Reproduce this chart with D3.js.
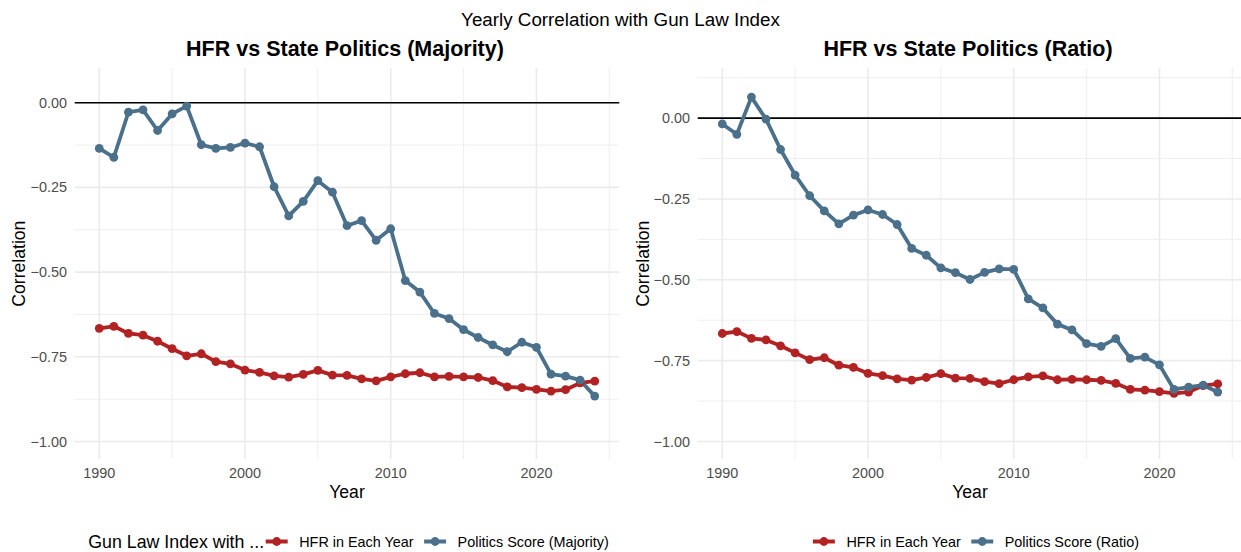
<!DOCTYPE html>
<html>
<head>
<meta charset="utf-8">
<script src="https://cdn.jsdelivr.net/npm/d3@7"></script>
<style>
  html, body { margin: 0; padding: 0; background: #ffffff; }
  svg { display: block; font-family: "Liberation Sans", Arial, Helvetica, sans-serif; }
</style>
</head>
<body>
<svg id="chart" width="1241" height="552"></svg>
<script>
// Years covered by both panels
const years = [1990, 1991, 1992, 1993, 1994, 1995, 1996, 1997, 1998, 1999,
               2000, 2001, 2002, 2003, 2004, 2005, 2006, 2007, 2008, 2009,
               2010, 2011, 2012, 2013, 2014, 2015, 2016, 2017, 2018, 2019,
               2020, 2021, 2022, 2023, 2024];

// Correlation of the gun law index with household firearm rate (HFR)
const hfrCorr = [-0.666, -0.660, -0.681, -0.686, -0.704, -0.726, -0.747, -0.741, -0.764, -0.771,
                 -0.789, -0.796, -0.806, -0.810, -0.802, -0.790, -0.804, -0.805, -0.815, -0.821,
                 -0.809, -0.800, -0.797, -0.809, -0.808, -0.809, -0.811, -0.820, -0.839, -0.841,
                 -0.846, -0.851, -0.847, -0.827, -0.822];

// Correlation with state politics score, majority version
const politicsMajority = [-0.135, -0.161, -0.028, -0.021, -0.082, -0.033, -0.010, -0.124, -0.135, -0.132,
                          -0.119, -0.130, -0.248, -0.334, -0.291, -0.230, -0.264, -0.363, -0.348, -0.406,
                          -0.372, -0.525, -0.559, -0.622, -0.637, -0.670, -0.693, -0.715, -0.735, -0.707,
                          -0.722, -0.801, -0.807, -0.819, -0.866];

// Correlation with state politics score, ratio version
const politicsRatio = [-0.018, -0.050, 0.065, -0.003, -0.097, -0.176, -0.240, -0.287, -0.327, -0.300,
                       -0.284, -0.298, -0.329, -0.403, -0.424, -0.463, -0.478, -0.499, -0.477, -0.466,
                       -0.468, -0.559, -0.587, -0.637, -0.655, -0.697, -0.706, -0.682, -0.743, -0.739,
                       -0.763, -0.839, -0.832, -0.826, -0.847];

// Axis ticks and labels
const xMajorTicks = [1990, 2000, 2010, 2020];
const xMinorTicks = [1995, 2005, 2015, 2025];
const yMajorTicks = [0, -0.25, -0.5, -0.75, -1];
const yMinorTicks = [0.125, -0.125, -0.375, -0.625, -0.875];

const chartTitle = "Yearly Correlation with Gun Law Index";
const panelTitles = ["HFR vs State Politics (Majority)", "HFR vs State Politics (Ratio)"];
const seriesNames = ["HFR in Each Year", ["Politics Score (Majority)", "Politics Score (Ratio)"]];
const legendTitle = "Gun Law Index with ...";
const yLimits = [[-1, 0.05], [-1, 0.1]];

const RED = "#B22222";
const BLUE = "#4A708B";
const GRID = "#EBEBEB";
const TICK_TEXT = "#4D4D4D";

const svg = d3.select("#chart");

// Overall title
svg.append("text")
  .attr("x", 620.5).attr("y", 19)
  .attr("text-anchor", "middle").attr("dominant-baseline", "central")
  .style("font-size", "18.8px").attr("fill", "#000")
  .text(chartTitle);

// ggplot-style 5% expansion on continuous scales
function expand(lim, mult = 0.05) {
  const r = lim[1] - lim[0];
  return [lim[0] - r * mult, lim[1] + r * mult];
}

const panels = [
  { left: 74.5, right: 619.5, ySeries: politicsMajority, yLim: yLimits[0],
    title: panelTitles[0], blueName: seriesNames[1][0], legendTitle: legendTitle, ylabX: 18.5 },
  { left: 697.5, right: 1242.5, ySeries: politicsRatio, yLim: yLimits[1],
    title: panelTitles[1], blueName: seriesNames[1][1], legendTitle: null, ylabX: 642.5 }
];
const panelTop = 68, panelBottom = 459.3;

panels.forEach((p, pi) => {
  const g = svg.append("g");
  const x = d3.scaleLinear().domain(expand([years[0], years[years.length - 1]])).range([p.left, p.right]);
  const y = d3.scaleLinear().domain(expand(p.yLim)).range([panelBottom, panelTop]);
  const [d0, d1] = y.domain();
  const inY = v => v >= d0 && v <= d1;
  const xd = x.domain();
  const inX = v => v >= xd[0] && v <= xd[1];

  // clip for plotting area
  const clipId = "clip" + pi;
  svg.append("defs").append("clipPath").attr("id", clipId)
    .append("rect").attr("x", p.left).attr("y", panelTop)
    .attr("width", p.right - p.left).attr("height", panelBottom - panelTop);

  const grid = g.append("g").attr("clip-path", `url(#${clipId})`);
  // minor grid
  grid.selectAll(".ymin").data(yMinorTicks.filter(inY)).join("line")
    .attr("x1", p.left).attr("x2", p.right)
    .attr("y1", d => y(d)).attr("y2", d => y(d))
    .attr("stroke", GRID).attr("stroke-width", 0.8);
  grid.selectAll(".xmin").data(xMinorTicks.filter(inX)).join("line")
    .attr("y1", panelTop).attr("y2", panelBottom)
    .attr("x1", d => x(d)).attr("x2", d => x(d))
    .attr("stroke", GRID).attr("stroke-width", 0.8);
  // major grid
  grid.selectAll(".ymaj").data(yMajorTicks.filter(inY)).join("line")
    .attr("x1", p.left).attr("x2", p.right)
    .attr("y1", d => y(d)).attr("y2", d => y(d))
    .attr("stroke", GRID).attr("stroke-width", 1.6);
  grid.selectAll(".xmaj").data(xMajorTicks.filter(inX)).join("line")
    .attr("y1", panelTop).attr("y2", panelBottom)
    .attr("x1", d => x(d)).attr("x2", d => x(d))
    .attr("stroke", GRID).attr("stroke-width", 1.6);

  // reference line at zero
  grid.append("line")
    .attr("x1", p.left).attr("x2", p.right)
    .attr("y1", y(0)).attr("y2", y(0))
    .attr("stroke", "#000").attr("stroke-width", 1.6);

  // y tick labels
  g.selectAll(".ylab").data(yMajorTicks).join("text")
    .attr("x", p.left - 7.5).attr("y", d => y(d))
    .attr("text-anchor", "end").attr("dominant-baseline", "central")
    .style("font-size", "14.4px").attr("fill", TICK_TEXT)
    .text(d => d3.format(".2f")(d));

  // x tick labels
  g.selectAll(".xlab").data(xMajorTicks).join("text")
    .attr("x", d => x(d)).attr("y", 472.5)
    .attr("text-anchor", "middle").attr("dominant-baseline", "central")
    .style("font-size", "14.4px").attr("fill", TICK_TEXT)
    .text(d => d);

  // axis titles
  g.append("text")
    .attr("x", (p.left + p.right) / 2).attr("y", 492)
    .attr("text-anchor", "middle").attr("dominant-baseline", "central")
    .style("font-size", "17.6px").attr("fill", "#000")
    .text("Year");
  g.append("text")
    .attr("transform", `translate(${p.ylabX},${(panelTop + panelBottom) / 2}) rotate(-90)`)
    .attr("text-anchor", "middle").attr("dominant-baseline", "central")
    .style("font-size", "17.6px").attr("fill", "#000")
    .text("Correlation");

  // panel title
  g.append("text")
    .attr("x", (p.left + p.right) / 2 - 2).attr("y", 48.5)
    .attr("text-anchor", "middle").attr("dominant-baseline", "central")
    .style("font-size", "21.5px").style("font-weight", "bold").attr("fill", "#000")
    .text(p.title);

  // series
  const series = [
    { name: seriesNames[0], values: hfrCorr, color: RED },
    { name: p.blueName, values: p.ySeries, color: BLUE }
  ];
  const line = d3.line().x(d => x(d[0])).y(d => y(d[1]));
  const plot = g.append("g").attr("clip-path", `url(#${clipId})`);
  series.forEach(s => {
    plot.append("path")
      .datum(years.map((yr, i) => [yr, s.values[i]]))
      .attr("d", line).attr("fill", "none")
      .attr("stroke", s.color).attr("stroke-width", 3.8)
      .attr("stroke-linejoin", "round").attr("stroke-linecap", "butt");
  });
  series.forEach(s => {
    plot.selectAll(null).data(years.map((yr, i) => [yr, s.values[i]])).join("circle")
      .attr("cx", d => x(d[0])).attr("cy", d => y(d[1]))
      .attr("r", 4.4).attr("fill", s.color);
  });

  // legend, laid out left to right and centred under the panel
  const lg = g.append("g");
  const legY = 541.5;
  let cursor = 0;
  if (p.legendTitle) {
    const t = lg.append("text").attr("x", cursor).attr("y", legY)
      .attr("dominant-baseline", "central")
      .style("font-size", "17.8px").attr("fill", "#000").text(p.legendTitle);
    cursor += t.node().getComputedTextLength() + 1.5;
  }
  series.forEach((s, i) => {
    const key = lg.append("g").attr("transform", `translate(${cursor},${legY})`);
    key.append("line").attr("x1", 0).attr("x2", 22).attr("y1", 0).attr("y2", 0)
      .attr("stroke", s.color).attr("stroke-width", 4);
    key.append("circle").attr("cx", 11).attr("cy", 0).attr("r", 4.4).attr("fill", s.color);
    cursor += 22 + 11.5;
    const t = lg.append("text").attr("x", cursor).attr("y", legY)
      .attr("dominant-baseline", "central")
      .style("font-size", "14.4px").attr("fill", "#000").text(s.name);
    cursor += t.node().getComputedTextLength();
    if (i < series.length - 1) cursor += 10.5;
  });
  const centre = (p.left + p.right) / 2 + (p.legendTitle ? 1.5 : 6);
  lg.attr("transform", `translate(${centre - cursor / 2},0)`);
});
</script>
</body>
</html>
